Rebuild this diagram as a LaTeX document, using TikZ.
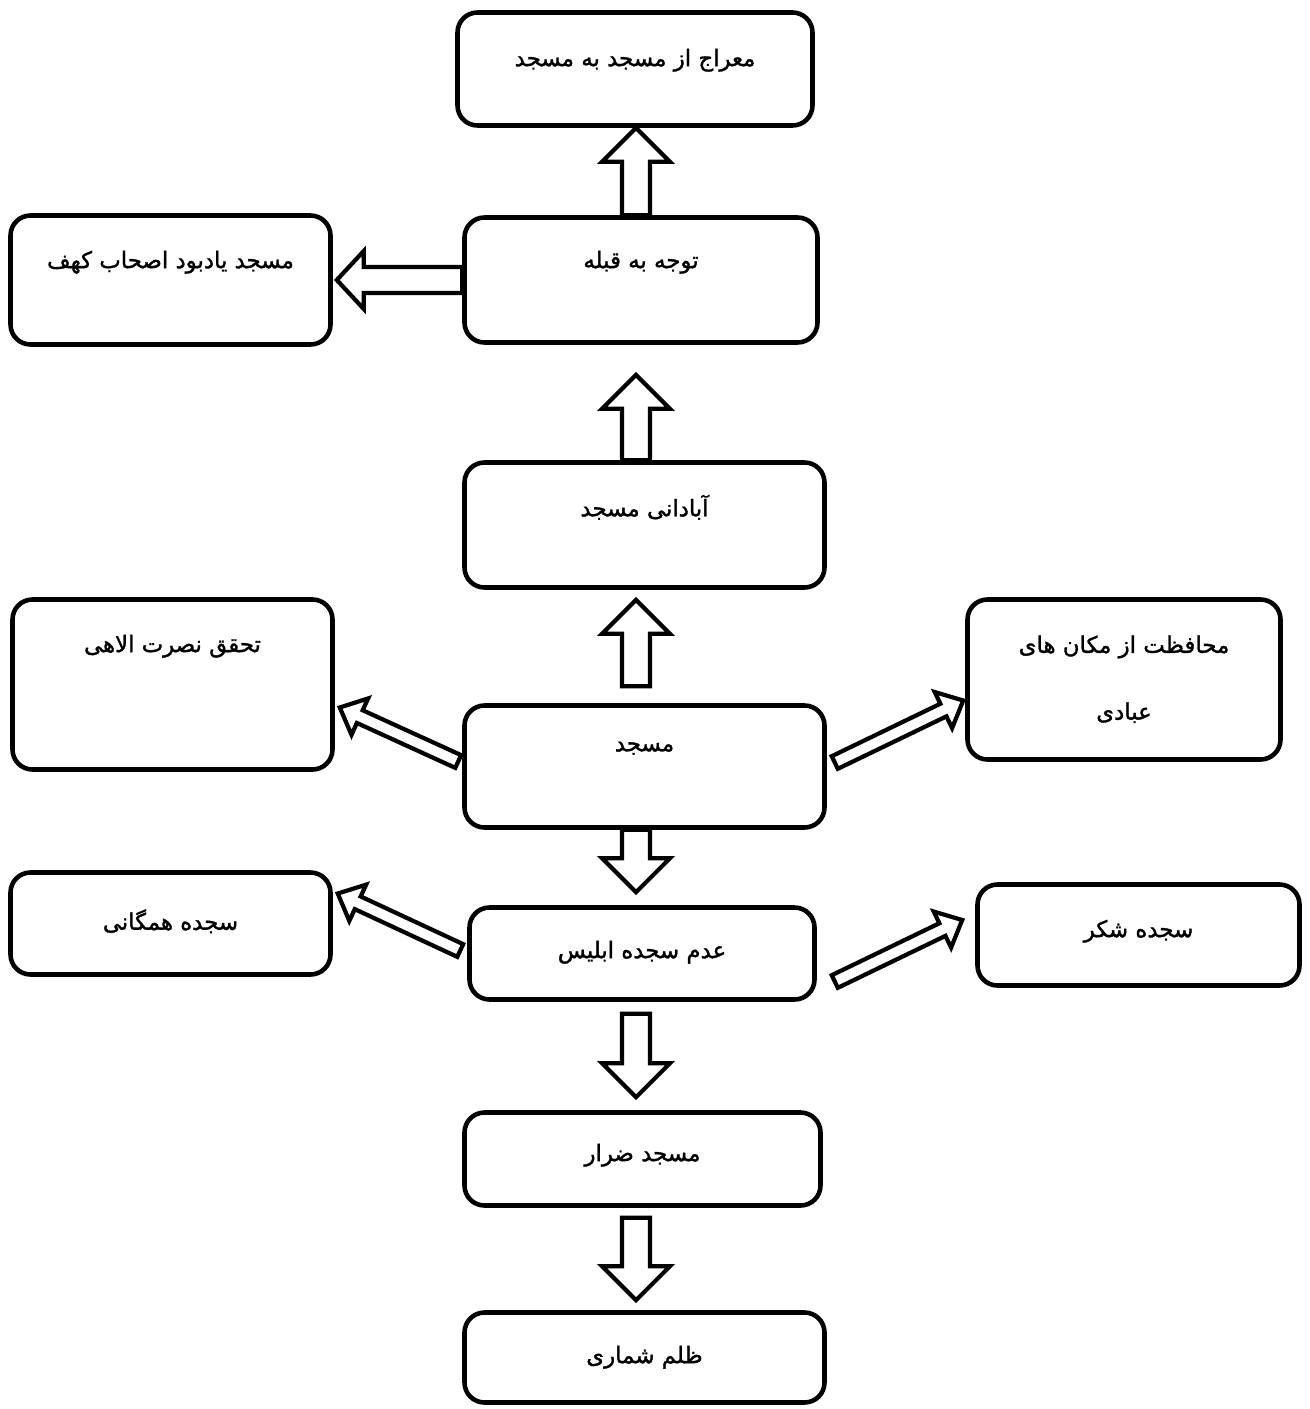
\documentclass[tikz,border=0pt]{standalone}
\usepackage{fontspec}
\usetikzlibrary{calc}
\newfontfamily\arabicfont[Script=Arabic, FakeBold=1.4]{DejaVu Sans}
\TeXXeTstate=1

\tikzset{
  cell/.style 2 args={draw, line width=2.6pt, rounded corners=0.4cm, fill=white,
    minimum width=#1*0.02cm, minimum height=#2*0.02cm, inner sep=0pt},
  caption/.style={font=\arabicfont\fontsize{13}{20}\selectfont, align=center},
  hollow/.style={draw, line width=2.4pt, fill=white, line join=miter},
}

% hollow block arrow: tail, tip, shaft half width, head half width, head length
\newcommand{\blockarrow}[5]{%
  \coordinate (ba-s) at (#1);
  \coordinate (ba-t) at (#2);
  \coordinate (ba-h) at ($(ba-t)!#5!(ba-s)$);
  \draw[hollow] ($(ba-s)!#3!90:(ba-t)$) -- ($(ba-h)!#3!90:(ba-t)$)
    -- ($(ba-h)!#4!90:(ba-t)$) -- (ba-t) -- ($(ba-h)!#4!-90:(ba-t)$)
    -- ($(ba-h)!#3!-90:(ba-t)$) -- ($(ba-s)!#3!-90:(ba-t)$) -- cycle;
}

\begin{document}
\begin{tikzpicture}[x=0.02cm, y=-0.02cm]
  \useasboundingbox (0,0) rectangle (1309,1409);

  % boxes
  \node[cell={355}{113}] (top) at (635,69) {};
  \node[cell={353}{125}] (tawajoh) at (641,280) {};
  \node[cell={320}{129}] (kahf) at (170.5,280) {};
  \node[cell={360}{125}] (abadani) at (644.5,525) {};
  \node[cell={360}{122}] (masjid) at (644.5,766.5) {};
  \node[cell={320}{170}] (nusrat) at (172.5,684.5) {};
  \node[cell={313}{160}] (mohafezat) at (1124,679.5) {};
  \node[cell={320}{102}] (hamegani) at (170.5,923.5) {};
  \node[cell={345}{92}] (eblis) at (642,953.5) {};
  \node[cell={322}{101}] (shokr) at (1138.5,935) {};
  \node[cell={356}{93}] (zerar) at (642.5,1159) {};
  \node[cell={360}{90}] (zolm) at (644.5,1357.5) {};

  % texts
  \node[caption] (top-t) at ($(top.north)+(0,50)$) {\beginR معراج از مسجد به مسجد\endR};
  \node[caption] (tawajoh-t) at ($(tawajoh.north)+(0,47)$) {\beginR توجه به قبله\endR};
  \node[caption] (kahf-t) at ($(kahf.north)+(0,49)$) {\beginR مسجد یادبود اصحاب کهف\endR};
  \node[caption] (abadani-t) at ($(abadani.north)+(0,47)$) {\beginR آبادانی مسجد\endR};
  \node[caption] (masjid-t) at ($(masjid.north)+(0,45)$) {\beginR مسجد\endR};
  \node[caption] (nusrat-t) at ($(nusrat.north)+(0,49)$) {\beginR تحقق نصرت الاهی\endR};
  \node[caption] (mohafezat-t) at ($(mohafezat.north)+(0,82)$)
    {\beginR محافظت از مکان های\endR\\[18pt]\beginR عبادی\endR};
  \node[caption] (hamegani-t) at ($(hamegani.north)+(0,51)$) {\beginR سجده همگانی\endR};
  \node[caption] (eblis-t) at ($(eblis.north)+(0,47)$) {\beginR عدم سجده ابلیس\endR};
  \node[caption] (shokr-t) at ($(shokr.north)+(0,49)$) {\beginR سجده شکر\endR};
  \node[caption] (zerar-t) at ($(zerar.north)+(0,45)$) {\beginR مسجد ضرار\endR};
  \node[caption] (zolm-t) at ($(zolm.north)+(0,47)$) {\beginR ظلم شماری\endR};

  % arrows along the middle column
  \coordinate (axis) at (636,0);
  \blockarrow{axis |- tawajoh.north}{axis |- top.south}{0.28cm}{0.68cm}{0.68cm}
  \blockarrow{axis |- abadani.north}{$(axis |- tawajoh.south)+(0,30)$}{0.28cm}{0.68cm}{0.68cm}
  \blockarrow{$(axis |- masjid.north)+(0,-17)$}{$(axis |- abadani.south)+(0,10)$}{0.28cm}{0.68cm}{0.68cm}
  \blockarrow{axis |- masjid.south}{$(axis |- eblis.north)+(0,-13)$}{0.28cm}{0.68cm}{0.68cm}
  \blockarrow{$(axis |- eblis.south)+(0,12)$}{$(axis |- zerar.north)+(0,-13)$}{0.28cm}{0.68cm}{0.68cm}
  \blockarrow{$(axis |- zerar.south)+(0,10)$}{$(axis |- zolm.north)+(0,-10)$}{0.28cm}{0.68cm}{0.68cm}

  % side arrows
  \blockarrow{tawajoh.west}{$(kahf.east)+(4,0)$}{0.26cm}{0.58cm}{0.54cm}
  \blockarrow{$(masjid.west)+(-4,-5)$}{$(nusrat.east)+(5,23)$}{0.14cm}{0.4cm}{0.44cm}
  \blockarrow{$(masjid.east)+(8,-4)$}{$(mohafezat.west)+(-2,21)$}{0.14cm}{0.4cm}{0.44cm}
  \blockarrow{$(eblis.west)+(-7,-3)$}{$(hamegani.east)+(5,-30)$}{0.14cm}{0.4cm}{0.44cm}
  \blockarrow{$(eblis.east)+(18,28)$}{$(shokr.west)+(-13,-15)$}{0.14cm}{0.4cm}{0.44cm}
\end{tikzpicture}
\end{document}
